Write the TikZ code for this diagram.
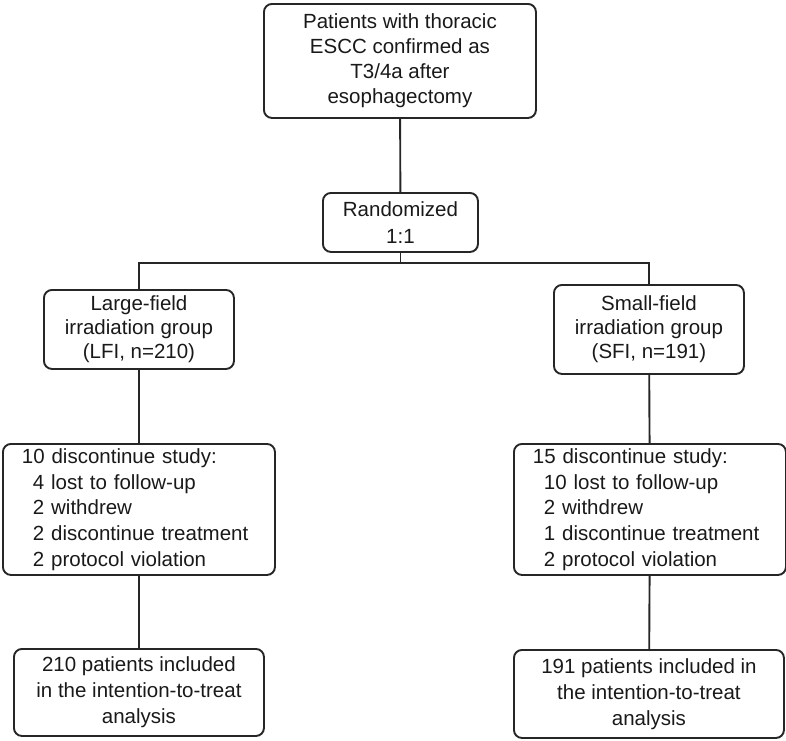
\documentclass[tikz,border=0pt]{standalone}
\usepackage{fontspec}
\setmainfont{Liberation Sans}
\begin{document}
\begin{tikzpicture}[x=1pt,y=-1pt,
  box/.style={draw=black!85, line width=1.9pt, rounded corners=8pt, anchor=north west,
    inner sep=0pt, align=center, font=\fontsize{20.5}{25}\selectfont, text=black!90},
  lbox/.style={box, align=left, inner xsep=19pt},
  conn/.style={draw=black!85, line width=1.9pt}]
\useasboundingbox (0,0) rectangle (786,740);
\node[box, minimum width=272pt, minimum height=114pt] (top) at (263,3)
  {Patients with thoracic\\ESCC confirmed as\\T3/4a after\\esophagectomy};
\node[box, minimum width=155pt, minimum height=59pt, font=\fontsize{20.5}{27}\selectfont] (rand) at (322,192)
  {Randomized\\1:1};
\node[box, minimum width=190pt, minimum height=79pt, font=\fontsize{20.5}{24}\selectfont] (lg) at (43,289)
  {Large-field\\irradiation group\\(LFI, n=210)};
\node[box, minimum width=190pt, minimum height=89pt, font=\fontsize{20.5}{24}\selectfont] (rg) at (553,284)
  {Small-field\\irradiation group\\(SFI, n=191)};
\node[lbox, text width=234pt, minimum height=131pt, font=\fontsize{20.5}{25.75}\selectfont] (ld) at (2,443)
  {10 discontinue study:\\\hspace*{11pt}4 lost to follow-up\\\hspace*{11pt}2 withdrew\\\hspace*{11pt}2 discontinue treatment\\\hspace*{11pt}2 protocol violation};
\node[lbox, text width=234pt, minimum height=131pt, font=\fontsize{20.5}{25.75}\selectfont] (rd) at (513,443)
  {15 discontinue study:\\\hspace*{11pt}10 lost to follow-up\\\hspace*{11pt}2 withdrew\\\hspace*{11pt}1 discontinue treatment\\\hspace*{11pt}2 protocol violation};
\node[box, minimum width=250pt, minimum height=87pt, font=\fontsize{20.5}{26}\selectfont] (lb) at (13,648)
  {210 patients included\\in the intention-to-treat\\analysis};
\node[box, minimum width=270pt, minimum height=88pt, font=\fontsize{20.5}{26}\selectfont] (rb) at (513,649)
  {191 patients included in\\the intention-to-treat\\analysis};
\coordinate (j) at (400,263);
\draw[conn] (top) -- (rand);
\draw[conn] (rand.south) -- (rand.south |- j);
\draw[conn] (lg.north) -- (lg.north |- j) -- (rg.north |- j) -- (rg.north);
\draw[conn] (lg) -- (ld);
\draw[conn] (rg) -- (rd);
\draw[conn] (ld) -- (lb);
\draw[conn] (rd) -- (rb);
\end{tikzpicture}
\end{document}
